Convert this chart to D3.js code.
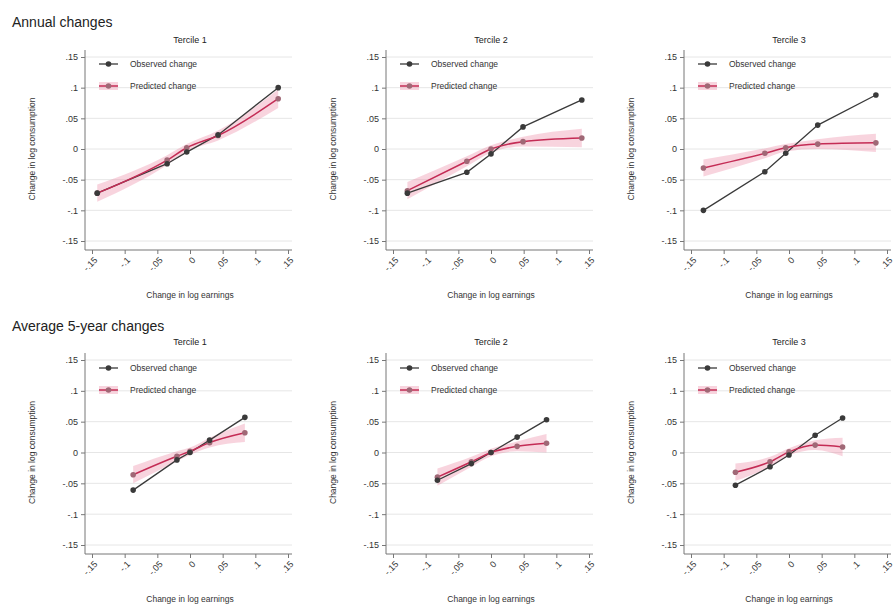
<!DOCTYPE html>
<html>
<head>
<meta charset="utf-8">
<script src="https://cdn.jsdelivr.net/npm/d3@7"></script>
<style>
  html, body { margin: 0; padding: 0; background: #ffffff; }
  svg { display: block; font-family: "Liberation Sans", Arial, sans-serif; }
</style>
</head>
<body>
<svg id="chart" width="893" height="612"></svg>
<script>
// Row headings, panel headings, series names, axis titles
const rowTitles = ["Annual changes", "Average 5-year changes"];
const panelTitles = ["Tercile 1", "Tercile 2", "Tercile 3"];
const seriesNames = ["Observed change", "Predicted change"];
const xTitle = "Change in log earnings";
const yTitle = "Change in log consumption";

// Shared tick values and their printed labels
const tickValues = [-0.15, -0.1, -0.05, 0, 0.05, 0.1, 0.15];
const tickLabels = ["-.15", "-.1", "-.05", "0", ".05", ".1", ".15"];

// Annual changes: bin centres (x) and mean outcomes for each series
const annualX = [
  [-0.142, -0.035, -0.005, 0.043, 0.135],
  [-0.128, -0.037, 0.000, 0.049, 0.139],
  [-0.131, -0.037, -0.005, 0.044, 0.133]
];
const annualObserved = [
  [-0.072, -0.024, -0.005, 0.023, 0.100],
  [-0.072, -0.038, -0.008, 0.036, 0.080],
  [-0.100, -0.037, -0.007, 0.039, 0.088]
];
const annualPredicted = [
  [-0.072, -0.018, 0.002, 0.022, 0.082],
  [-0.068, -0.020, 0.000, 0.012, 0.018],
  [-0.031, -0.007, 0.002, 0.008, 0.010]
];

// Average 5-year changes
const fiveYearX = [
  [-0.087, -0.020, 0.000, 0.030, 0.084],
  [-0.082, -0.030, 0.000, 0.040, 0.085],
  [-0.082, -0.029, 0.000, 0.040, 0.082]
];
const fiveYearObserved = [
  [-0.061, -0.012, 0.000, 0.020, 0.057],
  [-0.045, -0.018, 0.000, 0.025, 0.053],
  [-0.053, -0.023, -0.004, 0.028, 0.056]
];
const fiveYearPredicted = [
  [-0.036, -0.006, 0.002, 0.016, 0.032],
  [-0.040, -0.015, 0.000, 0.010, 0.015],
  [-0.032, -0.015, 0.001, 0.012, 0.009]
];

// Half-width of the 95% band around the predicted series, per bin
const bandHalfWidth = [0.014, 0.008, 0.006, 0.008, 0.015];

const rows = [
  { x: annualX, a: annualObserved, b: annualPredicted },
  { x: fiveYearX, a: fiveYearObserved, b: fiveYearPredicted }
];

// Layout
const colOffset = [0, 301, 599];
const rowLayout = [
  { yTop: 57, yBot: 241, axisY: 250, title: 40, head: 22, legend: 64 },
  { yTop: 360, yBot: 545, axisY: 554, title: 342, head: 326, legend: 368 }
];

const darkCol = "#3a3a3a";
const redCol = "#c42c55";
const bandCol = "rgba(232,120,152,0.32)";
const markB = "#a06876";
const fontFam = "Liberation Sans, Arial, sans-serif";

const svg = d3.select("#chart");

rowTitles.forEach((t, r) => {
  svg.append("text")
    .attr("x", 12).attr("y", rowLayout[r].head + 5)
    .attr("font-size", 14).attr("fill", "#222")
    .text(t);
});

rows.forEach((row, r) => {
  const L = rowLayout[r];
  panelTitles.forEach((pt, c) => {
    const dx = colOffset[c];
    const x = d3.scaleLinear().domain([-0.15, 0.15]).range([92 + dx, 288 + dx]);
    const y = d3.scaleLinear().domain([-0.15, 0.15]).range([L.yBot, L.yTop]);
    const axisX = 85 + dx;
    const g = svg.append("g");

    // gridlines
    g.selectAll(".grid").data(tickValues).join("line")
      .attr("x1", axisX).attr("x2", 292 + dx)
      .attr("y1", d => y(d)).attr("y2", d => y(d))
      .attr("stroke", "#e6e6e6").attr("stroke-width", 1);

    // y axis
    const yAxis = d3.axisLeft(y).tickValues(tickValues)
      .tickFormat((d, i) => tickLabels[i]).tickSize(4).tickPadding(3);
    const ya = g.append("g").attr("transform", `translate(${axisX},0)`).call(yAxis);
    ya.select(".domain").attr("stroke", "#777").attr("d", `M0,${L.axisY}V${L.yTop - 7}`);
    ya.selectAll(".tick line").attr("stroke", "#777");
    ya.selectAll(".tick text").attr("font-size", 9).attr("fill", "#333")
      .attr("font-family", fontFam);

    // x axis, angled labels
    const xAxis = d3.axisBottom(x).tickValues(tickValues)
      .tickFormat((d, i) => tickLabels[i]).tickSize(4).tickPadding(2);
    const xa = g.append("g").attr("transform", `translate(0,${L.axisY})`).call(xAxis);
    xa.select(".domain").attr("stroke", "#777").attr("d", `M${axisX},0H${292 + dx}`);
    xa.selectAll(".tick line").attr("stroke", "#777");
    xa.selectAll(".tick text")
      .attr("font-size", 9).attr("fill", "#333")
      .attr("font-family", fontFam)
      .attr("text-anchor", "end")
      .attr("dy", "0.3em").attr("dx", "-0.1em")
      .attr("transform", "translate(0,4) rotate(-45)");

    // axis titles
    g.append("text")
      .attr("x", 190 + dx).attr("y", L.axisY + 48)
      .attr("text-anchor", "middle").attr("font-size", 8.5).attr("fill", "#333")
      .text(xTitle);
    g.append("text")
      .attr("transform", `translate(${35 + dx},${(L.yTop + L.yBot) / 2}) rotate(-90)`)
      .attr("text-anchor", "middle").attr("font-size", 8.5).attr("fill", "#333")
      .text(yTitle);

    // panel title
    g.append("text")
      .attr("x", 190 + dx).attr("y", L.title + 3)
      .attr("text-anchor", "middle").attr("font-size", 9).attr("fill", "#222")
      .text(pt);

    const xs = row.x[c], as = row.a[c], bs = row.b[c];
    const ptsA = xs.map((v, i) => [v, as[i]]);
    const ptsB = xs.map((v, i) => [v, bs[i], bandHalfWidth[i]]);

    // band around predicted series
    g.append("path").datum(ptsB)
      .attr("fill", bandCol)
      .attr("d", d3.area().curve(d3.curveMonotoneX)
        .x(d => x(d[0])).y0(d => y(d[1] - d[2])).y1(d => y(d[1] + d[2])));

    // observed series
    g.append("path").datum(ptsA)
      .attr("fill", "none").attr("stroke", darkCol).attr("stroke-width", 1.3)
      .attr("d", d3.line().x(d => x(d[0])).y(d => y(d[1])));

    // predicted series
    g.append("path").datum(ptsB)
      .attr("fill", "none").attr("stroke", redCol).attr("stroke-width", 1.5)
      .attr("d", d3.line().curve(d3.curveMonotoneX).x(d => x(d[0])).y(d => y(d[1])));

    g.selectAll(".mb").data(ptsB).join("circle")
      .attr("cx", d => x(d[0])).attr("cy", d => y(d[1])).attr("r", 2.8)
      .attr("fill", markB);
    g.selectAll(".ma").data(ptsA).join("circle")
      .attr("cx", d => x(d[0])).attr("cy", d => y(d[1])).attr("r", 2.8)
      .attr("fill", darkCol);

    // legend
    const lg = g.append("g");
    const ly1 = L.legend, ly2 = L.legend + 22;
    lg.append("line").attr("x1", 99 + dx).attr("x2", 118 + dx)
      .attr("y1", ly1).attr("y2", ly1).attr("stroke", darkCol).attr("stroke-width", 1.3);
    lg.append("circle").attr("cx", 108.5 + dx).attr("cy", ly1).attr("r", 2.8).attr("fill", darkCol);
    lg.append("rect").attr("x", 99 + dx).attr("y", ly2 - 4).attr("width", 19).attr("height", 8)
      .attr("fill", bandCol);
    lg.append("line").attr("x1", 99 + dx).attr("x2", 118 + dx)
      .attr("y1", ly2).attr("y2", ly2).attr("stroke", redCol).attr("stroke-width", 1.5);
    lg.append("circle").attr("cx", 108.5 + dx).attr("cy", ly2).attr("r", 2.8).attr("fill", markB);
    seriesNames.forEach((s, i) => {
      lg.append("text").attr("x", 130 + dx).attr("y", (i ? ly2 : ly1) + 3)
        .attr("font-size", 8.5).attr("fill", "#333").text(s);
    });
  });
});
</script>
</body>
</html>
